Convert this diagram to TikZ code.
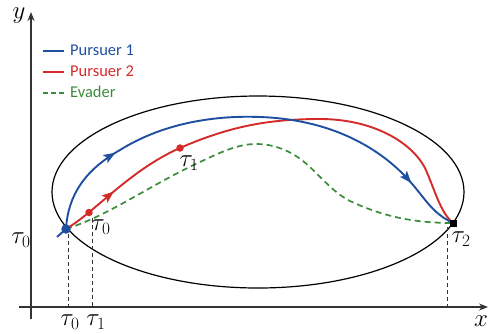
\documentclass[tikz,border=0pt]{standalone}
\usepackage{fontspec}
\setsansfont{Carlito}
\usetikzlibrary{arrows.meta,decorations.markings}
\definecolor{pblue}{HTML}{1F4FA0}
\definecolor{pred}{HTML}{D42A2A}
\definecolor{egreen}{HTML}{3C8C3C}
\definecolor{axgray}{HTML}{333333}
\tikzset{
  axis/.style={axgray,line width=1.4pt,-{Stealth[length=9pt,width=7pt]}},
  guide/.style={axgray,dash pattern=on 4pt off 3pt,line width=0.7pt},
  pathblue/.style={pblue,line width=1.9pt},
  pathred/.style={pred,line width=1.9pt},
  pathgreen/.style={egreen,line width=1.7pt,dash pattern=on 6pt off 4pt},
  lab/.style={font=\fontsize{23}{23}\selectfont,inner sep=0pt},
  legtext/.style={font=\sffamily\fontsize{16.5}{17}\selectfont,anchor=west,inner sep=0pt},
  arrowA/.style={postaction={decorate,decoration={markings,
     mark=at position #1 with {\arrow{Stealth[length=12pt,width=9pt,inset=2.5pt]}}}}},
  arrowB/.style={postaction={decorate,decoration={markings,
     mark=at position #1 with {\arrow{Stealth[length=12pt,width=9pt,inset=2.5pt]}}}}},
  rdot/.style={circle,fill=pred,inner sep=0pt,minimum size=7.5pt},
}
\begin{document}
\begin{tikzpicture}[x=1pt,y=-1pt]
\useasboundingbox (0,0) rectangle (489,333);
% axes
\coordinate (xs) at (19,307); \coordinate (xe) at (488,307);
\coordinate (ys) at (31,319); \coordinate (ye) at (31,12);
\draw[axis] (xs) -- (xe);
\draw[axis] (ys) -- (ye);
\node[lab] (ylab) at (19,16) {$y$};
\node[lab] (xlab) at (481,321) {$x$};
% ellipse
\draw[black,line width=1.2pt] (258,192) ellipse [x radius=206,y radius=96];
% legend
\draw[pathblue] (43,51) -- (64,51);
\node[legtext,text=pblue] (l1) at (70,50) {Pursuer 1};
\draw[pathred] (43,72) -- (64,72);
\node[legtext,text=pred] (l2) at (70,71) {Pursuer 2};
\draw[pathgreen,dash pattern=on 5pt off 3pt] (43,93) -- (65,93);
\node[legtext,text=egreen] (l3) at (70,92) {Evader};
% key points
\coordinate (t0) at (66,229);
\coordinate (t2) at (453,223);
\coordinate (r0) at (89,212.5);
\coordinate (r1) at (180,148);
% guide lines
\coordinate (g0) at (68,307); \coordinate (g1) at (92,307); \coordinate (g2) at (447,307);
\draw[guide] (68,234) -- (g0);
\draw[guide] (92,218) -- (g1);
\draw[guide] (447,227) -- (g2);
% evader
\draw[pathgreen] (t0) .. controls (110,215) and (150,185) .. (200,162)
  .. controls (225,150) and (240,144) .. (256,144)
  .. controls (273,144) and (289,150) .. (303,161)
  .. controls (318,173) and (332,192) .. (350,201)
  .. controls (380,215) and (410,223) .. (t2);
% pursuer 2
\draw[pathred,arrowA=0.13] (t0) .. controls (95,212) and (130,170) .. (r1)
  .. controls (230,126) and (270,119) .. (320,119)
  .. controls (370,119) and (410,140) .. (425,168)
  .. controls (435,190) and (440,212) .. (t2);
% pursuer 1
\draw[pathblue,arrowA=0.22,arrowB=0.88] (57,237) -- (t0)
  .. controls (68,195) and (85,170) .. (120,150)
  .. controls (160,125) and (210,115) .. (260,117)
  .. controls (320,119) and (370,140) .. (405,176)
  .. controls (425,197) and (430,212) .. (t2);
% dots
\node[rdot] (d0) at (r0) {};
\node[rdot] (d1) at (r1) {};
\node[circle,fill=pblue,inner sep=0pt,minimum size=9.5pt] (p0) at (t0) {};
\node[rectangle,fill=black,inner sep=0pt,minimum size=7pt] (p2) at (t2) {};
% labels
\node[lab] (lt0a) at (21,240) {$\tau_0$};
\node[lab] (lt0b) at (101,227) {$\tau_0$};
\node[lab] (lt1) at (189,163) {$\tau_1$};
\node[lab] (lt2) at (461,239) {$\tau_2$};
\node[lab] (bt0) at (70,322) {$\tau_0$};
\node[lab] (bt1) at (96,322) {$\tau_1$};
\end{tikzpicture}
\end{document}
